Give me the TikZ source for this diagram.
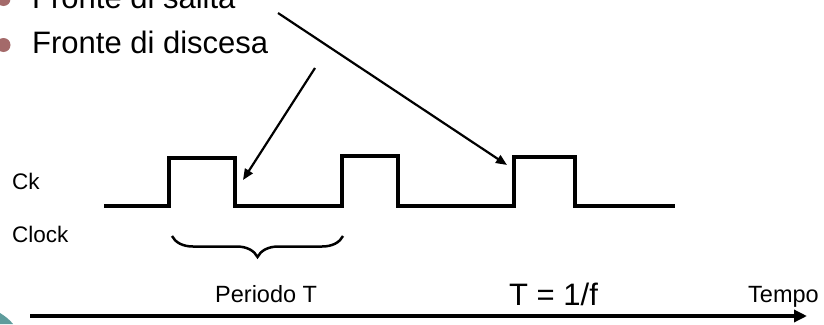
\documentclass[tikz,border=0pt]{standalone}
\usepackage{fontspec}
\setmainfont{Liberation Sans}
\usepackage{xcolor}
\usetikzlibrary{arrows.meta,positioning,decorations.pathreplacing}
\definecolor{bulletred}{HTML}{A46A6A}
\definecolor{slideteal}{HTML}{5E9C9C}

\begin{document}
\begin{tikzpicture}[
    x=1pt, y=-1pt,
    big/.style={font=\fontsize{31}{36}\selectfont, anchor=base west, inner sep=0pt},
    mid/.style={font=\fontsize{23.5}{28}\selectfont, anchor=base west, inner sep=0pt},
    small/.style={font=\fontsize{22.5}{27}\selectfont, anchor=base west, inner sep=0pt},
    bullet/.style={circle, fill=bulletred, minimum size=14pt, inner sep=0pt},
    wave/.style={line width=3.5pt, line join=miter},
    pointer/.style={line width=2.2pt, -{Triangle[length=11pt,width=9pt]}},
    axis/.style={line width=4pt, -{Triangle[length=13pt,width=12pt]}},
]
\useasboundingbox (0,0) rectangle (824,324);

% --- Bullet list (top) ---
\node[bullet] (b1) at (3.5,-1) {};
\node[big] (salita) at (32,9) {Fronte di salita};
\node[bullet] (b2) at (3.5,45) {};
\node[big] (discesa) at (32,53) {Fronte di discesa};

% --- Clock signal ---
\node[small] (ck)    at (12,189) {Ck};
\node[small] (clock) at (12,242) {Clock};
\draw[wave] (104,206) -- (169,206) -- (169,158) -- (235,158) -- (235,206)
            -- (342,206) -- (342,156) -- (398,156) -- (398,206)
            -- (514,206) -- (514,157) -- (575,157) -- (575,206) -- (675,206);

% Pointers from the list to the edges
\coordinate (fromSalita)  at (278,13);
\coordinate (toRise)      at (507,165);
\coordinate (fromDiscesa) at (315,68);
\coordinate (toFall)      at (243,180);
\draw[pointer] (fromSalita) -- (toRise);
\draw[pointer] (fromDiscesa) -- (toFall);

% --- Period brace ---
\coordinate (brL) at (172,236);
\coordinate (brR) at (343,236);
\draw[line width=2.5pt, decorate, decoration={brace, mirror, amplitude=21pt}] (brL) -- (brR);
\node[mid] (periodo) at (215,302) {Periodo T};
\node[big] (freq)    at (509,305) {T = 1/f};

% --- Time axis ---
\coordinate (t0) at (30,316);
\coordinate (t1) at (807,316);
\draw[axis] (t0) -- (t1);
\node[mid] (tempo) at (748,302) {Tempo};

% slide corner
\fill[slideteal] (0,313) .. controls (5,316) and (10,320) .. (13,324) -- (0,324) -- cycle;

\end{tikzpicture}
\end{document}
